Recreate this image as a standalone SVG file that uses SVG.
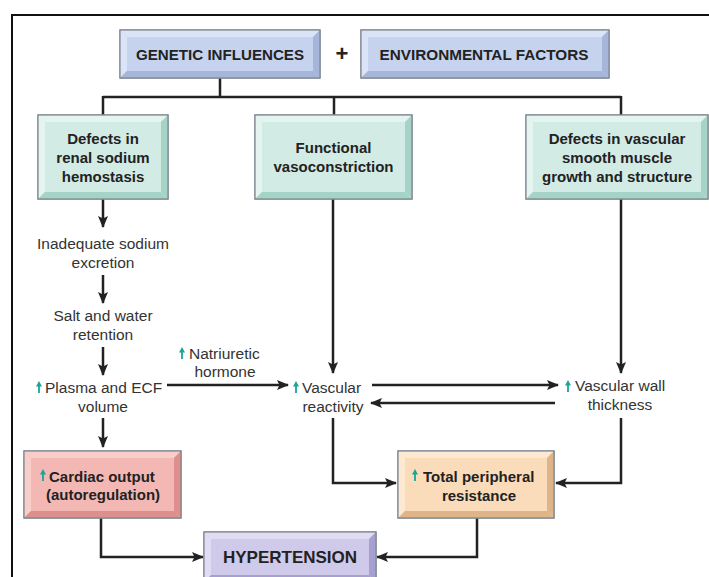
<svg xmlns="http://www.w3.org/2000/svg" xmlns:xlink="http://www.w3.org/1999/xlink" width="709" height="577" viewBox="0 0 709 577">
<style>
.frame{fill:none;stroke:#111;stroke-width:2}
.edge{fill:none;stroke:#222;stroke-width:2.5}
.ar{fill:none;stroke:#222;stroke-width:2.5;marker-end:url(#ah)}
.ol{stroke:#7d8590;stroke-width:1.2}
.bl{fill:#c6d3ee}.bl .lt{fill:#dbe4f6}.bl .dk{fill:#a6b5da}
.tl{fill:#d3ebe5}.tl .lt{fill:#e4f4ef}.tl .dk{fill:#a5d3c5}
.pk{fill:#f3b8b4}.pk .lt{fill:#f8cdca}.pk .dk{fill:#dc8f8c}
.pc{fill:#fbdcba}.pc .lt{fill:#fde9d2}.pc .dk{fill:#dfb488}
.lv{fill:#cfc9ea}.lv .lt{fill:#e0dcf3}.lv .dk{fill:#a89fd1}
.bt{font-family:"Liberation Sans",Arial,sans-serif;font-weight:bold;font-size:15px;fill:#222;text-anchor:middle}
.tx{font-family:"Liberation Sans",Arial,sans-serif;font-size:15.5px;fill:#333;text-anchor:middle}
.txs{font-family:"Liberation Sans",Arial,sans-serif;font-size:15.5px;fill:#333}
.up{fill:none;stroke:#1aa59a;stroke-width:1.8}
.uph{fill:#1aa59a}
</style>
<defs>
<marker id="ah" viewBox="0 0 12 10" refX="11" refY="5" markerWidth="12" markerHeight="10" markerUnits="userSpaceOnUse" orient="auto">
<path d="M0,0 L12,5 L0,10 L2.5,5 Z" fill="#222"/>
</marker>
<g id="uparrow">
<line class="up" x1="0" y1="12" x2="0" y2="3"/>
<path class="uph" d="M-3,5.5 L0,0 L3,5.5 Z"/>
</g>
</defs>
<path class="frame" d="M12,577 L12,15 L712,15"/>
<g id="connectors">
<path class="edge" d="M220,78 V97 M103,97 H621 M103,96 V115 M334,96 V115 M621,96 V115"/>
<path class="ar" d="M103,199 V227"/>
<path class="ar" d="M103,275 V303"/>
<path class="ar" d="M103,347 V375"/>
<path class="ar" d="M103,418 V447"/>
<path class="ar" d="M167,385 H288"/>
<path class="ar" d="M333,199 V373"/>
<path class="ar" d="M621,199 V373"/>
<path class="ar" d="M372,385 H558"/>
<path class="ar" d="M555,403 H371"/>
<path class="ar" d="M333,418 V483 H396"/>
<path class="ar" d="M621,418 V483 H556"/>
<path class="ar" d="M101,518 V557 H203"/>
<path class="ar" d="M477,518 V557 H377"/>
</g>
<g id="genetic" class="bl" transform="translate(120,30)">
<rect class="ol" width="200" height="48"/>
<polygon class="lt" points="0,0 200,0 193,7 7,7"/><polygon class="lt" points="0,0 7,7 7,41 0,48"/>
<polygon class="dk" points="0,48 7,41 193,41 200,48"/><polygon class="dk" points="200,0 200,48 193,41 193,7"/>
<rect class="ol" width="200" height="48" fill="none"/>
<text class="bt" x="100" y="30" textLength="168" lengthAdjust="spacingAndGlyphs">GENETIC INFLUENCES</text>
</g>
<text class="bt" x="342" y="61" style="font-size:22px">+</text>
<g id="environmental" class="bl" transform="translate(361,30)">
<rect class="ol" width="248" height="48"/>
<polygon class="lt" points="0,0 248,0 241,7 7,7"/><polygon class="lt" points="0,0 7,7 7,41 0,48"/>
<polygon class="dk" points="0,48 7,41 241,41 248,48"/><polygon class="dk" points="248,0 248,48 241,41 241,7"/>
<rect class="ol" width="248" height="48" fill="none"/>
<text class="bt" x="123" y="30" textLength="209" lengthAdjust="spacingAndGlyphs">ENVIRONMENTAL FACTORS</text>
</g>
<g id="renal" class="tl" transform="translate(38,115)">
<rect class="ol" width="130" height="84"/>
<polygon class="lt" points="0,0 130,0 123,7 7,7"/><polygon class="lt" points="0,0 7,7 7,77 0,84"/>
<polygon class="dk" points="0,84 7,77 123,77 130,84"/><polygon class="dk" points="130,0 130,84 123,77 123,7"/>
<rect class="ol" width="130" height="84" fill="none"/>
<text class="bt" x="65" y="29">Defects in</text>
<text class="bt" x="65" y="48">renal sodium</text>
<text class="bt" x="65" y="67">hemostasis</text>
</g>
<g id="functional" class="tl" transform="translate(255,115)">
<rect class="ol" width="157" height="84"/>
<polygon class="lt" points="0,0 157,0 150,7 7,7"/><polygon class="lt" points="0,0 7,7 7,77 0,84"/>
<polygon class="dk" points="0,84 7,77 150,77 157,84"/><polygon class="dk" points="157,0 157,84 150,77 150,7"/>
<rect class="ol" width="157" height="84" fill="none"/>
<text class="bt" x="78.5" y="38">Functional</text>
<text class="bt" x="78.5" y="57">vasoconstriction</text>
</g>
<g id="vascular-defects" class="tl" transform="translate(526,115)">
<rect class="ol" width="182" height="84"/>
<polygon class="lt" points="0,0 182,0 175,7 7,7"/><polygon class="lt" points="0,0 7,7 7,77 0,84"/>
<polygon class="dk" points="0,84 7,77 175,77 182,84"/><polygon class="dk" points="182,0 182,84 175,77 175,7"/>
<rect class="ol" width="182" height="84" fill="none"/>
<text class="bt" x="91" y="29">Defects in vascular</text>
<text class="bt" x="91" y="48">smooth muscle</text>
<text class="bt" x="91" y="67">growth and structure</text>
</g>
<g id="inadequate">
<text class="tx" x="103" y="249">Inadequate sodium</text>
<text class="tx" x="103" y="268">excretion</text>
</g>
<g id="salt">
<text class="tx" x="103" y="321">Salt and water</text>
<text class="tx" x="103" y="340">retention</text>
</g>
<g id="plasma">
<use xlink:href="#uparrow" x="39" y="381"/>
<text class="txs" x="45" y="393">Plasma and ECF</text>
<text class="tx" x="103" y="412">volume</text>
</g>
<g id="natriuretic">
<use xlink:href="#uparrow" x="182" y="347"/>
<text class="txs" x="189" y="359">Natriuretic</text>
<text class="tx" x="225" y="377">hormone</text>
</g>
<g id="reactivity">
<use xlink:href="#uparrow" x="296" y="381"/>
<text class="txs" x="302" y="393">Vascular</text>
<text class="tx" x="333" y="412">reactivity</text>
</g>
<g id="wall">
<use xlink:href="#uparrow" x="568" y="380"/>
<text class="txs" x="575" y="391">Vascular wall</text>
<text class="tx" x="620" y="410">thickness</text>
</g>
<g id="cardiac" class="pk" transform="translate(24,451)">
<rect class="ol" width="157" height="67"/>
<polygon class="lt" points="0,0 157,0 150,7 7,7"/><polygon class="lt" points="0,0 7,7 7,60 0,67"/>
<polygon class="dk" points="0,67 7,60 150,60 157,67"/><polygon class="dk" points="157,0 157,67 150,60 150,7"/>
<rect class="ol" width="157" height="67" fill="none"/>
<use xlink:href="#uparrow" x="19" y="18"/>
<text class="bt" x="25" y="31" style="text-anchor:start">Cardiac output</text>
<text class="bt" x="79" y="49">(autoregulation)</text>
</g>
<g id="total" class="pc" transform="translate(398,451)">
<rect class="ol" width="156" height="67"/>
<polygon class="lt" points="0,0 156,0 149,7 7,7"/><polygon class="lt" points="0,0 7,7 7,60 0,67"/>
<polygon class="dk" points="0,67 7,60 149,60 156,67"/><polygon class="dk" points="156,0 156,67 149,60 149,7"/>
<rect class="ol" width="156" height="67" fill="none"/>
<use xlink:href="#uparrow" x="17" y="18"/>
<text class="bt" x="25" y="31" style="text-anchor:start">Total peripheral</text>
<text class="bt" x="81" y="50">resistance</text>
</g>
<g id="hypertension" class="lv" transform="translate(204,532)">
<rect class="ol" width="172" height="50"/>
<polygon class="lt" points="0,0 172,0 165,7 7,7"/><polygon class="lt" points="0,0 7,7 7,43 0,50"/>
<polygon class="dk" points="0,50 7,43 165,43 172,50"/><polygon class="dk" points="172,0 172,50 165,43 165,7"/>
<rect class="ol" width="172" height="50" fill="none"/>
<text class="bt" x="86" y="31" style="font-size:17px">HYPERTENSION</text>
</g>
</svg>
